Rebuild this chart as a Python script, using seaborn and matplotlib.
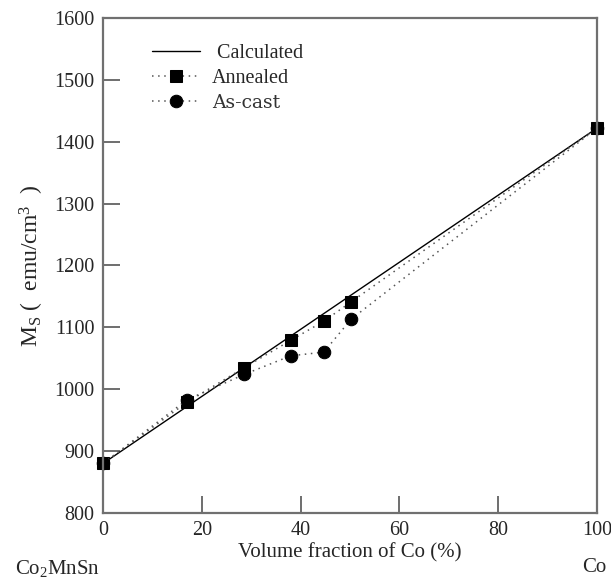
import matplotlib
matplotlib.use('Agg')
import matplotlib.pyplot as plt
import seaborn as sns

# Data
vol_frac = [0, 17, 28.6, 38, 44.7, 50.2, 100]
annealed = [880, 979, 1035, 1079, 1110, 1141, 1422]
as_cast = [880, 983, 1024, 1054, 1060, 1113, 1422]
calc_x = [0, 100]
calc_y = [880, 1422]

sns.set_style('white')
plt.rcParams['font.family'] = ['Liberation Serif', 'DejaVu Serif']
plt.rcParams['mathtext.fontset'] = 'custom'
plt.rcParams['mathtext.rm'] = 'Liberation Serif'
plt.rcParams['mathtext.it'] = 'Liberation Serif'

fig = plt.figure(figsize=(6.11, 5.79), dpi=100)
ax = fig.add_axes([0.1686, 0.114, 0.8085, 0.855])

dots = (0, (1, 3))
sns.lineplot(x=calc_x, y=calc_y, ax=ax, color='black', linewidth=1.0, label=' Calculated')
sns.lineplot(x=vol_frac, y=annealed, ax=ax, color='#555555', linestyle=dots, linewidth=1.1,
             marker='s', markersize=8, markerfacecolor='black', markeredgecolor='black',
             label='Annealed', clip_on=False)
sns.lineplot(x=vol_frac, y=as_cast, ax=ax, color='#555555', linestyle=dots, linewidth=1.1,
             marker='o', markersize=9, markerfacecolor='black', markeredgecolor='black',
             label='As-cast', clip_on=False)

ax.set_xlim(0, 100)
ax.set_ylim(800, 1600)
ax.set_xticks(range(0, 101, 20))
ax.set_yticks(range(800, 1601, 100))
ax.tick_params(axis='both', direction='in', length=12, width=1.2, color='#555555',
               labelsize=14.5, pad=6, bottom=True, left=True, top=False, right=False)

for s in ax.spines.values():
    s.set_color('#707070')
    s.set_linewidth(1.6)

ax.set_xlabel('Volume fraction of Co (%)', fontsize=15, labelpad=2)
ax.set_ylabel(r'M$_{\rm S}$ (  emu/cm$^{3}$  )', fontsize=17, labelpad=6)

fig.text(0.025, 0.008, r'Co$_2$MnSn', fontsize=15)
fig.text(0.953, 0.012, 'Co', fontsize=15)

leg = ax.legend(loc='upper left', frameon=False, fontsize=14.5, handlelength=2.4,
                handletextpad=0.6, labelspacing=0.3, borderaxespad=0.5,
                bbox_to_anchor=(0.062, 0.985))
leg.get_texts()[2].set_fontfamily('DejaVu Serif')
leg.get_texts()[2].set_fontsize(13.5)
leg.get_texts()[2].set_color('#333333')

fig.savefig('out.png', dpi=100)
